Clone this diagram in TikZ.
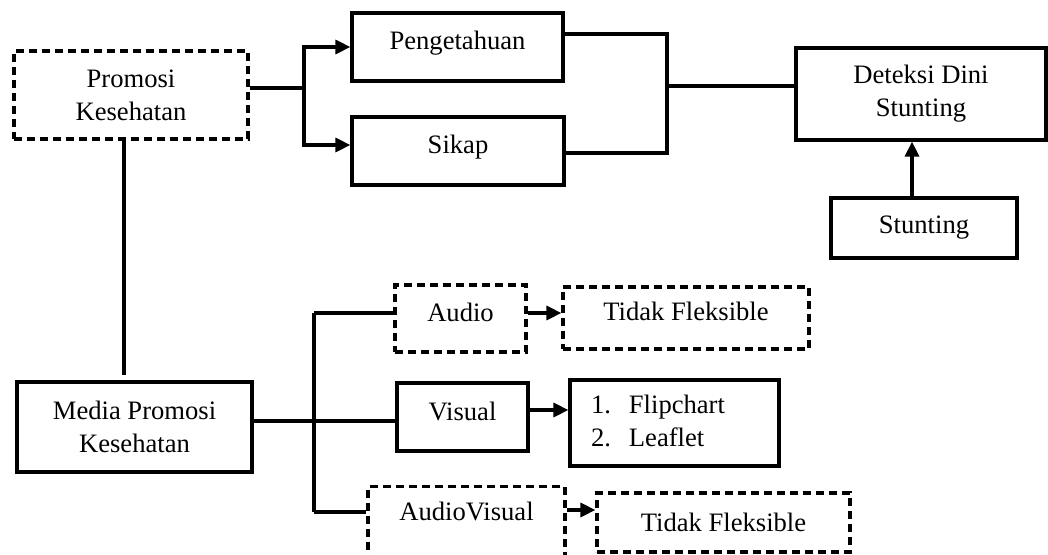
\documentclass[tikz,border=0pt]{standalone}
\usepackage{fontspec}
\setmainfont{Liberation Serif}
\usetikzlibrary{arrows.meta}
\begin{document}
\begin{tikzpicture}[x=0.5pt, y=-0.5pt, >={Triangle[length=7.5pt,width=7pt]}, line width=1.6pt, font=\fontsize{13.3}{16.5}\selectfont]
  \tikzset{box/.style={draw, inner sep=0pt, align=center},
    dbox/.style={box, dash pattern=on 4pt off 2.5pt},
    raised/.style={text height=9pt, text depth=6pt}}
  \useasboundingbox (0,0) rectangle (1048,555);
  \clip (0,0) rectangle (1048,555);
  \node[dbox, minimum width=117pt, minimum height=44pt] (promosi) at (131,95) {Promosi\\Kesehatan};
  \node[box, raised, minimum width=105.5pt, minimum height=34pt] (peng) at (457.5,47) {Pengetahuan};
  \node[box, raised, minimum width=106pt, minimum height=34pt] (sikap) at (458,151) {Sikap};
  \node[box, minimum width=125pt, minimum height=46pt] (deteksi) at (921,94) {Deteksi Dini\\Stunting};
  \node[box, minimum width=93pt, minimum height=30pt] (stunting) at (924,228) {Stunting};
  \node[box, minimum width=117.5pt, minimum height=45pt] (media) at (134.5,427) {Media Promosi\\Kesehatan};
  \node[dbox, raised, minimum width=65.5pt, minimum height=33.5pt] (audio) at (460.5,318.5) {Audio};
  \node[dbox, raised, minimum width=123pt, minimum height=31pt] (tidak1) at (686,318) {Tidak Fleksible};
  \node[box, raised, minimum width=65.5pt, minimum height=34pt] (visual) at (462.5,417) {Visual};
  \node[box, align=left, inner xsep=10.5pt, text width=83.5pt, minimum height=43pt] (flip) at (674.5,423)
    {\begin{tabular}{@{}l@{\hspace{9pt}}l@{}}1. & Flipchart\\ 2. & Leaflet\end{tabular}};
  \node[dbox, anchor=north, minimum width=98.5pt, text height=17pt, text depth=25pt] (av) at (466.5,485) {AudioVisual};
  \node[dbox, minimum width=126.5pt, minimum height=29.5pt] (tidak2) at (723.5,522.5) {Tidak Fleksible};
  \coordinate (j1) at (304,88);
  \coordinate (j2) at (667,86);
  \coordinate (b1) at (314,313);
  \coordinate (b2) at (314,421);
  \coordinate (b3) at (314,512);
  \draw ([yshift=3.5pt]promosi.east) -- (j1);
  \draw[->] (j1) |- (peng.west);
  \draw[->] (j1) |- ([yshift=3pt]sikap.west);
  \draw ([yshift=6.5pt]peng.east) -| (j2);
  \draw ([yshift=-1pt]sikap.east) -| (j2);
  \draw (j2) -- (j2 -| deteksi.west);
  \draw[->] ([xshift=-6pt]stunting.north) -- ([xshift=-6pt]stunting.north |- deteksi.south);
  \draw[shorten >=2.5pt] ([xshift=-3.5pt]promosi.south) -- ([xshift=-3.5pt]promosi.south |- media.north);
  \draw ([yshift=3pt]media.east) -- (b2) -- (b2 -| visual.west);
  \draw (b1) -- (b3);
  \draw (b1) -- (b1 -| audio.west);
  \draw (b3) -- (b3 -| av.west);
  \draw[->] (b1 -| audio.east) -- (b1 -| tidak1.west);
  \draw[->] ([yshift=3.5pt]visual.east) -- ([yshift=3.5pt]visual.east -| flip.west);
  \draw[->] ([yshift=1pt]b3 -| av.east) -- ([yshift=1pt]b3 -| tidak2.west);
\end{tikzpicture}
\end{document}
